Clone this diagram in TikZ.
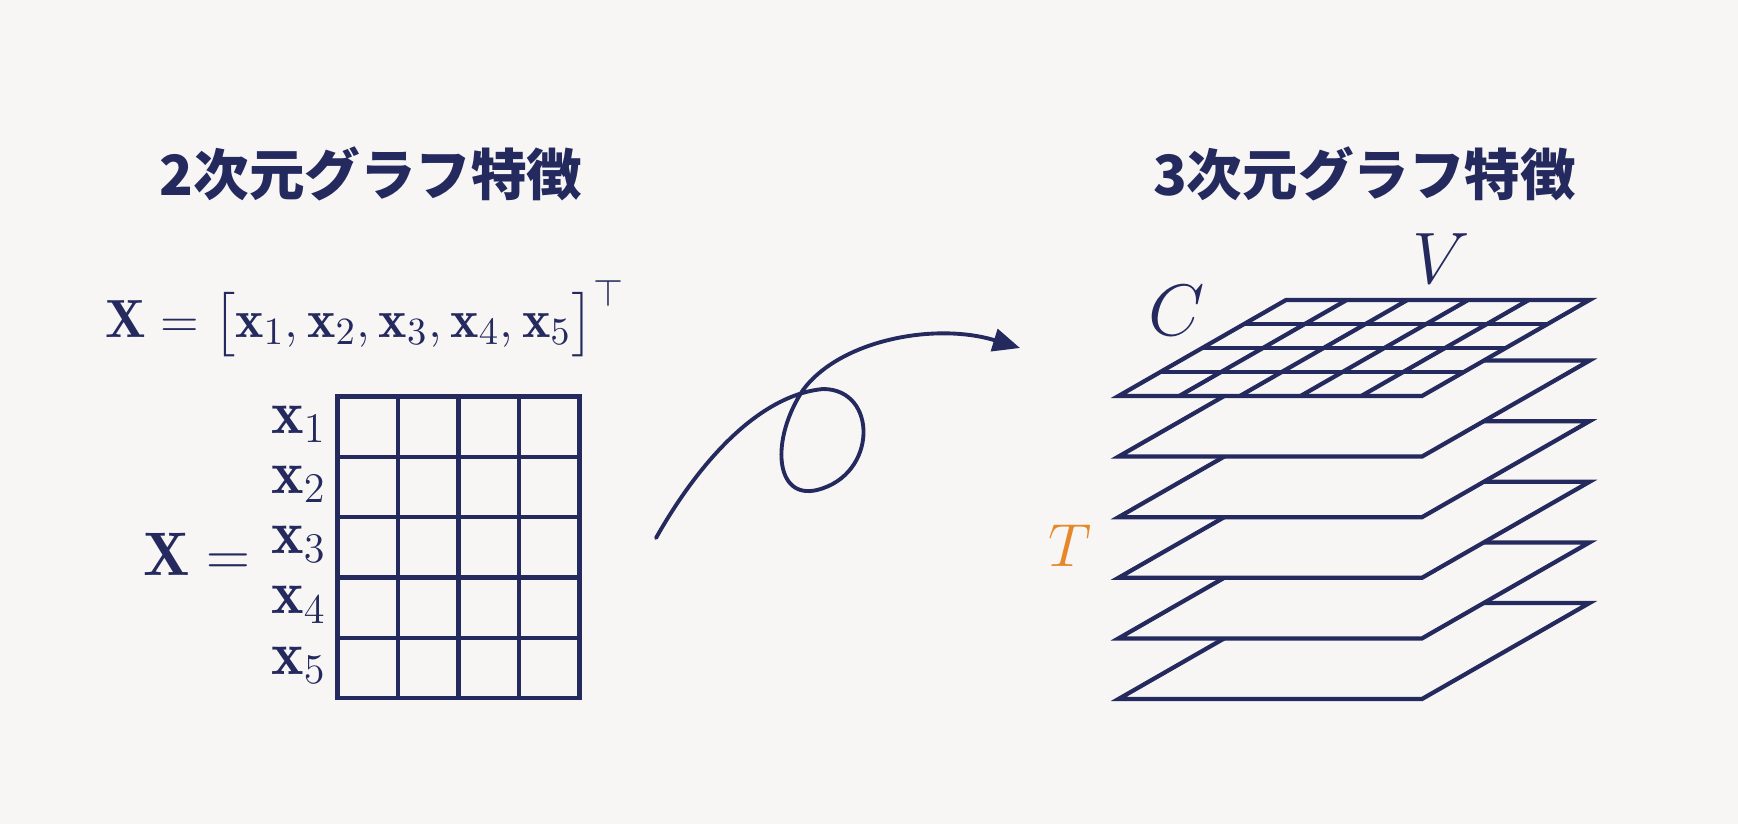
\documentclass[tikz,border=0pt]{standalone}
\usepackage{amsmath,amssymb}
\usepackage{fontspec}
\usepackage{xcolor}
\usepackage{tikz}
\usetikzlibrary{arrows.meta, positioning}

\newfontfamily\cjkfont{Noto Sans CJK JP}
\definecolor{navy}{RGB}{36,41,94}
\definecolor{tcol}{RGB}{232,135,42}
\definecolor{bgcol}{RGB}{247,246,245}

\tikzset{
  gridline/.style={draw=navy, line width=1.2pt},
  plane/.style={draw=navy, fill=bgcol, line width=1.2pt},
  title/.style={text=navy, font=\cjkfont\bfseries\fontsize{15.8}{19}\selectfont},
  eq/.style={text=navy, inner sep=0pt, font=\fontsize{15.3}{18}\selectfont},
  biglbl/.style={inner sep=0pt, font=\fontsize{19.5}{23}\selectfont},
}

\begin{document}
\begin{tikzpicture}[x=0.01cm, y=-0.01cm]
  \fill[bgcol] (0,0) rectangle (1738,824);
  \useasboundingbox (0,0) rectangle (1738,824);

  % left: 2D feature matrix
  \node[title] (title2d) at (371,174) {2次元グラフ特徴};
  \node[eq, anchor=base west] (eqtop) at (105,337)
       {$\mathbf{X} = \bigl[\mathbf{x}_1, \mathbf{x}_2, \mathbf{x}_3, \mathbf{x}_4, \mathbf{x}_5\bigr]^{\top}$};
  \draw[gridline] (337.5,396.5) rectangle (579.5,698);
  \foreach \c in {1,2,3} {
    \draw[gridline] (337.5+60.5*\c,396.5) -- (337.5+60.5*\c,698);
  }
  \foreach \r in {1,2,3,4} {
    \draw[gridline] (337.5,396.5+60.3*\r) -- (579.5,396.5+60.3*\r);
  }
  \foreach \i in {1,...,5} {
    \node[eq, anchor=base east, font=\fontsize{17.5}{21}\selectfont] (x\i) at (327,372.7+60.3*\i) {$\mathbf{x}_{\i}$};
  }
  \node[eq, anchor=base east, font=\fontsize{17.5}{21}\selectfont] (eqX) at (251,575) {$\mathbf{X} =$};

  % middle: looped arrow
  \coordinate (arrStart) at (656,538);
  \coordinate (arrEnd) at (1020,348);
  \draw[navy, line width=1.1pt, line cap=round, -{Triangle[length=7.7pt, width=6.5pt]}]
    (arrStart) .. controls (700,460) and (760,395) .. (823,389)
    .. controls (878,389) and (878,475) .. (817,490)
    .. controls (775,500) and (770,440) .. (803,390)
    .. controls (840,340) and (935,322) .. (arrEnd);

  % right: 3D feature stack
  \node[title] (title3d) at (1364.5,174) {3次元グラフ特徴};
  \foreach \k in {5,4,...,0} {
    \filldraw[plane] (1118.5,396+60.6*\k) -- (1422,396+60.6*\k)
      -- (1589.5,300+60.6*\k) -- (1286,300+60.6*\k) -- cycle;
  }
  \foreach \i in {1,...,4} {
    \draw[gridline] (1118.5+60.7*\i,396) -- (1286+60.7*\i,300);
  }
  \foreach \j in {1,2,3} {
    \draw[gridline] (1118.5+41.875*\j,396-24*\j) -- (1422+41.875*\j,396-24*\j);
  }
  \node[biglbl, text=navy] (labC) at (1176.5,311) {$C$};
  \node[biglbl, text=navy] (labV) at (1441.5,259) {$V$};
  \node[biglbl, text=tcol, font=\fontsize{18.8}{22}\selectfont] (labT) at (1070,546) {$T$};
\end{tikzpicture}
\end{document}
